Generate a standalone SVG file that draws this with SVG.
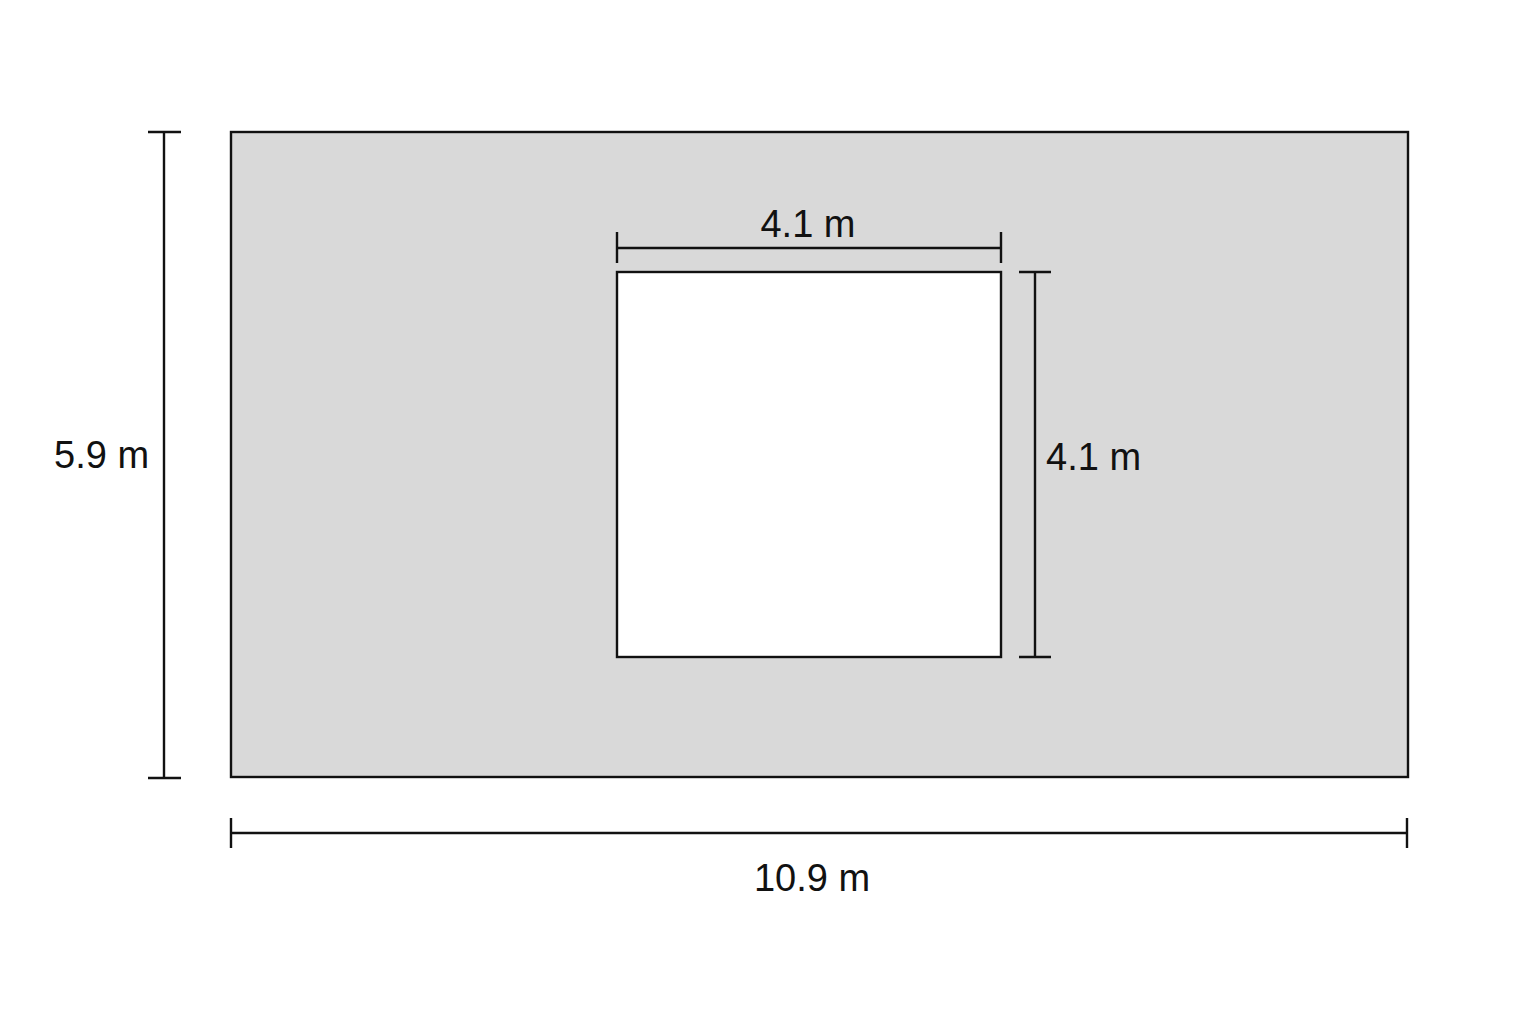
<svg xmlns="http://www.w3.org/2000/svg" width="1536" height="1024" viewBox="0 0 1536 1024">
<style>
.ln{stroke:#111;stroke-width:2.4;fill:none}
.t{font-family:"Liberation Sans",Arial,sans-serif;font-size:38px;fill:#111}
</style>
<rect width="1536" height="1024" fill="#ffffff"/>
<g id="outer"><rect x="231" y="132" width="1177" height="645" fill="#d9d9d9" stroke="#111" stroke-width="2.4"/></g>
<g id="inner"><rect x="617" y="272" width="384" height="385" fill="#ffffff" stroke="#111" stroke-width="2.4"/></g>
<g id="dimensions">
<path class="ln" d="M164 132V778M148 132H181M148 778H181"/>
<path class="ln" d="M231 833H1407M231 818V848M1407 818V848"/>
<path class="ln" d="M617 248H1001M617 232V263M1001 232V263"/>
<path class="ln" d="M1035 272V657M1019 272H1051M1019 657H1051"/>
</g>
<g id="labels">
<text class="t" x="808" y="237" text-anchor="middle">4.1 m</text>
<text class="t" x="1046" y="470">4.1 m</text>
<text class="t" x="54" y="468">5.9 m</text>
<text class="t" x="812" y="891" text-anchor="middle">10.9 m</text>
</g>
</svg>
